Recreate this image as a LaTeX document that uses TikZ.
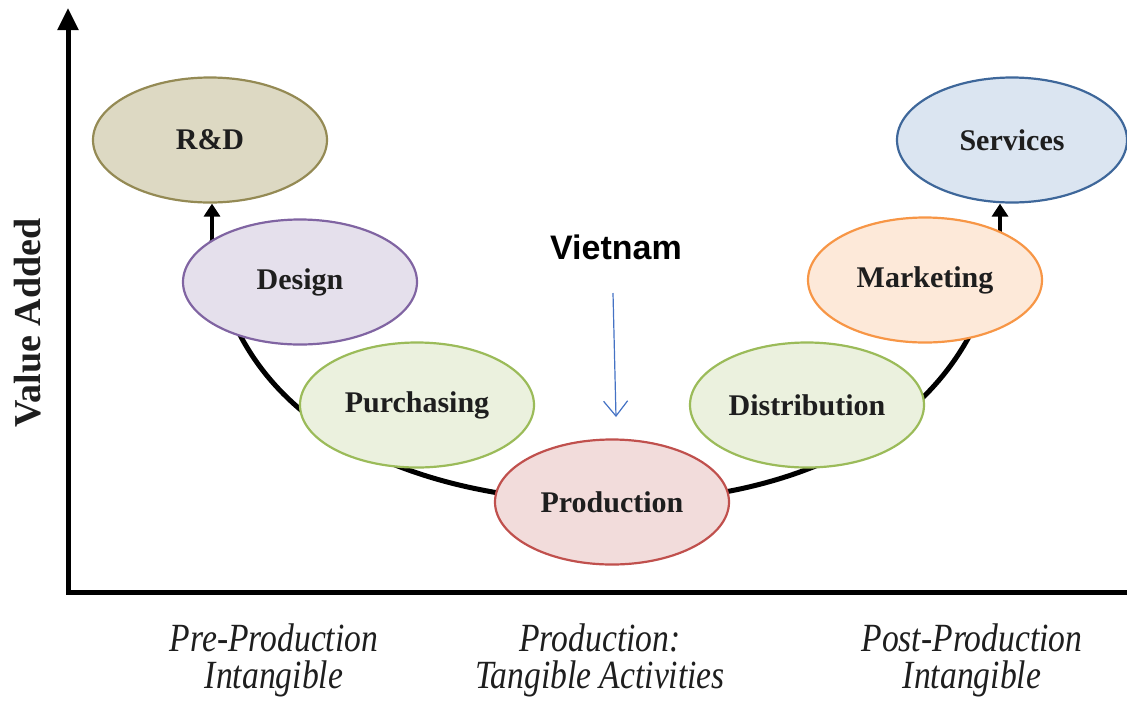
\documentclass[tikz,border=0pt]{standalone}
\usepackage{fontspec}
\setmainfont{Liberation Serif}
\newfontfamily\vfont{Liberation Sans}
\usetikzlibrary{arrows.meta,backgrounds,shapes.geometric}
\definecolor{rdfill}{HTML}{DDD9C3}\definecolor{rdline}{HTML}{948A54}
\definecolor{dsfill}{HTML}{E5E0EC}\definecolor{dsline}{HTML}{8064A2}
\definecolor{grfill}{HTML}{EBF1DE}\definecolor{grline}{HTML}{9BBB59}
\definecolor{prfill}{HTML}{F2DCDB}\definecolor{prline}{HTML}{C0504D}
\definecolor{mkfill}{HTML}{FDE9D9}\definecolor{mkline}{HTML}{F79646}
\definecolor{svfill}{HTML}{DBE5F1}\definecolor{svline}{HTML}{3E679A}
\definecolor{vnblue}{HTML}{4472C4}
\definecolor{txt}{HTML}{1E1E1E}
\tikzset{
  stage/.style={ellipse, draw, line width=2.2pt, minimum width=234pt, minimum height=125pt,
    inner sep=0pt, text=txt, font=\fontsize{30}{36}\selectfont\bfseries},
  axisline/.style={line width=5pt, black},
  ucurve/.style={line width=5pt, black},
  uparrow/.style={line width=4pt, black, -{Triangle[length=13pt,width=16pt]}},
  bottomlabel/.style={align=center, text=txt, font=\fontsize{40}{37}\selectfont\itshape, xscale=0.84}
}
\begin{document}
\begin{tikzpicture}[x=1pt,y=-1pt]
\useasboundingbox (0,0) rectangle (1127,705);
% axes
\coordinate (origin) at (68,592);
\coordinate (ytop) at (68,8);
\coordinate (xend) at (1127,592);
\draw[axisline] (xend) -- (origin) -- (68,30);
\draw[line width=5pt, -{Triangle[length=22pt,width=20pt]}] (68,40) -- (ytop);
% stages
\node[stage, fill=rdfill, draw=rdline] (rd) at (210,140) {R\&D};
\node[stage, fill=dsfill, draw=dsline] (design) at (300,282) {Design};
\node[stage, fill=grfill, draw=grline] (purch) at (417,405) {Purchasing};
\node[stage, fill=prfill, draw=prline] (prod) at (612,502) {Production};
\node[stage, fill=grfill, draw=grline] (dist) at (807,405) {Distribution};
\node[stage, fill=mkfill, draw=mkline] (mkt) at (925,280) {Marketing};
\node[stage, fill=svfill, draw=svline, minimum width=230pt] (sv) at (1012,140) {Services};
\coordinate (c1) at (212,240);
\coordinate (c2) at (1000,240);
\begin{scope}[on background layer]
  \draw[ucurve] (c1) .. controls (232,430) and (420,502) .. (prod.center);
  \draw[ucurve] (c2) .. controls (975,425) and (800,502) .. (prod.center);
  \draw[uparrow] (c1) -- (c1 |- rd.south);
  \draw[uparrow] (c2) -- (c2 |- sv.south);
\end{scope}
% Vietnam
\node[font=\vfont\fontsize{34}{40}\selectfont\bfseries, text=black] (vn) at (616,247) {Vietnam};
\coordinate (vnend) at (616,417);
\draw[vnblue, line width=1.2pt, -{Straight Barb[length=15pt,width=24pt,line width=1.2pt]}] (613,293) -- (vnend);
% axis labels
\node[rotate=90, text=txt, font=\fontsize{38}{44}\selectfont\bfseries] (va) at (28,323) {Value Added};
\node[bottomlabel] (pre) at (274,660) {Pre-Production\\Intangible};
\node[bottomlabel] (mid) at (600,660) {Production:\\Tangible Activities};
\node[bottomlabel] (post) at (972,660) {Post-Production\\Intangible};
\end{tikzpicture}
\end{document}
